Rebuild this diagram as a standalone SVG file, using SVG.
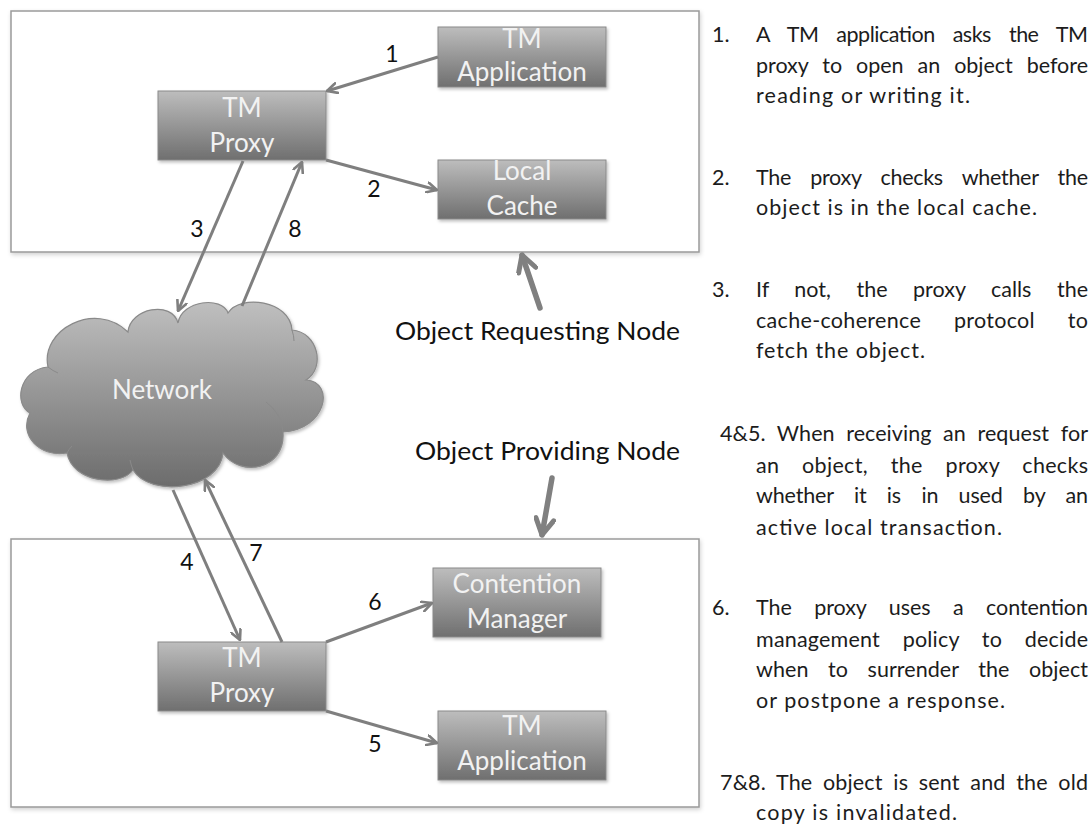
<svg xmlns="http://www.w3.org/2000/svg" width="1092" height="824" viewBox="0 0 1092 824">
  <defs>
    <linearGradient id="boxFill" x1="0" y1="0" x2="0" y2="1">
      <stop offset="0" stop-color="#bdbdbd"/>
      <stop offset="1" stop-color="#6f6f6f"/>
    </linearGradient>
    <linearGradient id="cloudFill" x1="0" y1="0" x2="0" y2="1">
      <stop offset="0" stop-color="#bfbfbf"/>
      <stop offset="1" stop-color="#6c6c6c"/>
    </linearGradient>
    <filter id="shadow" x="-10%" y="-10%" width="125%" height="130%">
      <feDropShadow dx="1.5" dy="2" stdDeviation="1.5" flood-color="#000" flood-opacity="0.25"/>
    </filter>
    <filter id="softShadow" x="-5%" y="-5%" width="110%" height="112%">
      <feDropShadow dx="1" dy="2" stdDeviation="2" flood-color="#000" flood-opacity="0.18"/>
    </filter>
    <filter id="blurArrow" x="-50%" y="-50%" width="200%" height="200%">
      <feGaussianBlur stdDeviation="0.7"/>
    </filter>
    <marker id="head" viewBox="0 0 12 12" refX="11" refY="6" markerWidth="12" markerHeight="12" markerUnits="userSpaceOnUse" orient="auto">
      <path d="M1,1 L11,6 L1,11" fill="none" stroke="#7f7f7f" stroke-width="2.6" stroke-linecap="round" stroke-linejoin="round"/>
    </marker>
    <marker id="bigHead" viewBox="0 0 22 22" refX="20" refY="11" markerWidth="22" markerHeight="22" markerUnits="userSpaceOnUse" orient="auto">
      <path d="M4,2 L20,11 L4,20" fill="none" stroke="#808080" stroke-width="5" stroke-linecap="round" stroke-linejoin="round"/>
    </marker>
    <style>
      .frame { fill: #ffffff; stroke: #9a9a9a; stroke-width: 1.5; }
      .box { fill: url(#boxFill); stroke: #8a8a8a; stroke-width: 1; }
      .boxText { font-family: Lato, "Liberation Sans", sans-serif; font-size: 26px; fill: #f2f2f2; text-anchor: middle; }
      .conn { fill: none; stroke: #7f7f7f; stroke-width: 3; marker-end: url(#head); }
      .big { fill: none; stroke: #808080; stroke-width: 5.5; stroke-linecap: round; marker-end: url(#bigHead); }
      .num { font-family: Lato, "Liberation Sans", sans-serif; font-size: 23px; fill: #111; text-anchor: middle; }
      .caption { font-family: Lato, "Liberation Sans", sans-serif; font-size: 25px; fill: #111; }
      .note { font-family: Lato, "Liberation Sans", sans-serif; font-size: 21.5px; fill: #1c1c1c; }
    </style>
  </defs>

  <rect width="1092" height="824" fill="#ffffff"/>

  <!-- node containers -->
  <g id="requesting-node-frame">
    <rect class="frame" x="11" y="11" width="688" height="241" filter="url(#softShadow)"/>
  </g>
  <g id="providing-node-frame">
    <rect class="frame" x="11" y="539" width="688" height="268" filter="url(#softShadow)"/>
  </g>

  <!-- network cloud -->
  <g id="network">
    <path d="M48,367 C40,330 95,300 128,332 C130,308 172,300 178,323 C182,300 222,296 228,313 C240,294 290,300 292,330 C318,332 326,368 306,380 C336,382 326,430 283,432 C286,470 240,478 223,453 C220,490 150,498 133,470 C120,488 72,482 67,453 C40,458 18,435 30,413 C14,405 18,370 48,367 Z"
          fill="url(#cloudFill)" stroke="#8a8a8a" stroke-width="1.2" filter="url(#shadow)"/>
    <path d="M48,367 Q53,371 58,373 M292,330 Q294,336 294,341 M283,432 Q282,414 266,402 M67,453 Q69,449 72,446 M133,470 Q131,465 130,460"
          fill="none" stroke="#8a8a8a" stroke-width="1"/>
    <text class="boxText" x="162" y="399">Network</text>
  </g>

  <!-- requesting node components -->
  <g id="tm-proxy-top">
    <rect class="box" x="158" y="91" width="168" height="69" filter="url(#shadow)"/>
    <text class="boxText" x="242" y="117">TM</text>
    <text class="boxText" x="242" y="152">Proxy</text>
  </g>
  <g id="tm-application-top">
    <rect class="box" x="438" y="27" width="168" height="60" filter="url(#shadow)"/>
    <text class="boxText" x="522" y="48">TM</text>
    <text class="boxText" x="522" y="81">Application</text>
  </g>
  <g id="local-cache">
    <rect class="box" x="438" y="160" width="168" height="59" filter="url(#shadow)"/>
    <text class="boxText" x="522" y="180">Local</text>
    <text class="boxText" x="522" y="215">Cache</text>
  </g>

  <!-- providing node components -->
  <g id="tm-proxy-bottom">
    <rect class="box" x="158" y="642" width="168" height="69" filter="url(#shadow)"/>
    <text class="boxText" x="242" y="667">TM</text>
    <text class="boxText" x="242" y="702">Proxy</text>
  </g>
  <g id="contention-manager">
    <rect class="box" x="433" y="568" width="168" height="69" filter="url(#shadow)"/>
    <text class="boxText" x="517" y="593">Contention</text>
    <text class="boxText" x="517" y="628">Manager</text>
  </g>
  <g id="tm-application-bottom">
    <rect class="box" x="438" y="711" width="168" height="69" filter="url(#shadow)"/>
    <text class="boxText" x="522" y="735">TM</text>
    <text class="boxText" x="522" y="770">Application</text>
  </g>

  <!-- numbered connectors -->
  <g id="connectors">
    <path class="conn" d="M438,57 L327,91"/>
    <path class="conn" d="M326,160 L437,190"/>
    <path class="conn" d="M243,161 L178,311"/>
    <path class="conn" d="M242,306 L302,162"/>
    <path class="conn" d="M173,490 L240,640"/>
    <path class="conn" d="M282,642 L205,480"/>
    <path class="conn" d="M326,642 L432,603"/>
    <path class="conn" d="M326,711 L437,743"/>
    <g filter="url(#blurArrow)">
      <path class="big" d="M540,308 L522,255"/>
      <path class="big" d="M552,478 L542,535"/>
    </g>
  </g>

  <!-- step numbers -->
  <g id="step-labels">
    <text class="num" x="392" y="62">1</text>
    <text class="num" x="374" y="197">2</text>
    <text class="num" x="197" y="237">3</text>
    <text class="num" x="295" y="237">8</text>
    <text class="num" x="187" y="570">4</text>
    <text class="num" x="256" y="561">7</text>
    <text class="num" x="375" y="610">6</text>
    <text class="num" x="375" y="752">5</text>
  </g>

  <!-- node captions -->
  <g id="captions">
    <text class="caption" x="395" y="340" textLength="285" lengthAdjust="spacingAndGlyphs">Object Requesting Node</text>
    <text class="caption" x="415" y="460" textLength="265" lengthAdjust="spacingAndGlyphs">Object Providing Node</text>
  </g>

  <!-- step descriptions: justified lines widen the word gaps, textLength trims the remainder -->
  <g id="notes">
    <text class="note" x="712" y="42">1.</text>
    <text class="note" x="756" y="42" word-spacing="13" textLength="332" lengthAdjust="spacing">A TM application asks the TM</text>
    <text class="note" x="756" y="73" word-spacing="8.5" textLength="332" lengthAdjust="spacing">proxy to open an object before</text>
    <text class="note" x="756" y="103" textLength="214" lengthAdjust="spacing">reading or writing it.</text>

    <text class="note" x="712" y="185">2.</text>
    <text class="note" x="756" y="185" word-spacing="14" textLength="332" lengthAdjust="spacing">The proxy checks whether the</text>
    <text class="note" x="756" y="215" textLength="281" lengthAdjust="spacing">object is in the local cache.</text>

    <text class="note" x="712" y="297">3.</text>
    <text class="note" x="756" y="297" word-spacing="20" textLength="332" lengthAdjust="spacing">If not, the proxy calls the</text>
    <text class="note" x="756" y="328" word-spacing="27" textLength="332" lengthAdjust="spacing">cache-coherence protocol to</text>
    <text class="note" x="756" y="358" textLength="169" lengthAdjust="spacing">fetch the object.</text>

    <text class="note" x="720" y="441" word-spacing="6" textLength="368" lengthAdjust="spacing">4&amp;5. When receiving an request for</text>
    <text class="note" x="756" y="473" word-spacing="17" textLength="332" lengthAdjust="spacing">an object, the proxy checks</text>
    <text class="note" x="756" y="503" word-spacing="15" textLength="332" lengthAdjust="spacing">whether it is in used by an</text>
    <text class="note" x="756" y="535" textLength="246" lengthAdjust="spacing">active local transaction.</text>

    <text class="note" x="712" y="615">6.</text>
    <text class="note" x="756" y="615" word-spacing="17" textLength="332" lengthAdjust="spacing">The proxy uses a contention</text>
    <text class="note" x="756" y="647" word-spacing="17" textLength="332" lengthAdjust="spacing">management policy to decide</text>
    <text class="note" x="756" y="677" word-spacing="14" textLength="332" lengthAdjust="spacing">when to surrender the object</text>
    <text class="note" x="756" y="708" textLength="249" lengthAdjust="spacing">or postpone a response.</text>

    <text class="note" x="720" y="790" word-spacing="5" textLength="368" lengthAdjust="spacing">7&amp;8. The object is sent and the old</text>
    <text class="note" x="756" y="820" textLength="201" lengthAdjust="spacing">copy is invalidated.</text>
  </g>
</svg>
